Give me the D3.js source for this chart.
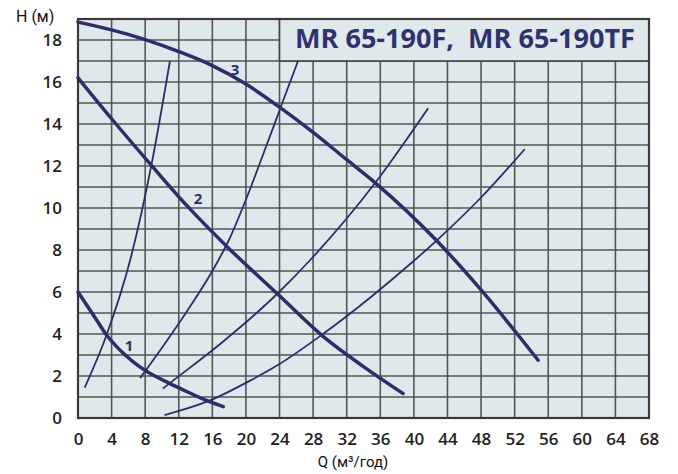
<!DOCTYPE html>
<html><head><meta charset="utf-8">
<script src="https://cdn.jsdelivr.net/npm/d3@7"></script>
<style>
html,body{margin:0;padding:0;background:#fff;}
svg{display:block;}
</style></head>
<body>
<svg id="c" width="678" height="474"></svg>
<script>
// ---- data ----
const xTicks = [0,4,8,12,16,20,24,28,32,36,40,44,48,52,56,60,64,68];
const yTicks = [0,2,4,6,8,10,12,14,16,18];
const titleText = "MR 65-190F,\u00A0 MR 65-190TF";
const xLabel = "Q (м³/год)";
const yLabel = "H (м)";
// pump curves [Q, H]
const pump1 = [[0,6.0],[2,4.8],[3.4,3.95],[4.6,3.4],[5.4,3.08],[6.5,2.7],[7.9,2.29],[10.9,1.65],[13,1.25],[15.5,0.8],[17.3,0.54]];
const pump2 = [[0,16.2],[4,14.25],[8.7,12.05],[13,10.1],[17.9,8.1],[23.65,5.95],[29,3.95],[34,2.45],[38.7,1.17]];
const pump3 = [[0,18.85],[4,18.48],[8,18.02],[12,17.45],[16,16.78],[20,15.9],[24,14.8],[28,13.6],[32,12.3],[35.4,11.2],[42.7,8.45],[48,6.1],[54.8,2.75]];
// system curves
const sysA = [[0.8,1.45],[3.4,3.95],[6.2,7.5],[8.77,12.1],[10.95,17.0]];
const sysB = [[7.4,1.9],[10,3.35],[13,5.1],[16,7.0],[18,8.5],[20.1,10.5],[22,12.5],[24.05,14.7],[26.2,17.0]];
const sysC = [[10.1,1.4],[10.9,1.65],[17,3.55],[23.8,5.94],[27.6,7.5],[35.4,11.2],[41.7,14.75]];
const sysE = [[10.3,0.14],[15.5,0.8],[20.5,1.78],[23.8,2.52],[29,3.95],[35,5.8],[39.9,7.45],[42.7,8.45],[48,10.5],[53.2,12.8]];
const curveLabels = [["1",6.07,3.48],["2",14.3,10.46],["3",18.7,16.62]];

const navy = "#2d2d6d";
const svg = d3.select("#c");
const x = d3.scaleLinear().domain([0,68]).range([78,649]);
const y = d3.scaleLinear().domain([0,19]).range([418,19]);

// plot background
svg.append("rect").attr("x",x(0)).attr("y",y(19)).attr("width",x(68)-x(0)).attr("height",y(0)-y(19)).attr("fill","#dfe9ec");

// grid
const g = svg.append("g").attr("stroke","#555").attr("stroke-width",1.6);
d3.range(0,69,4).forEach(v=>{
  g.append("line").attr("x1",x(v)).attr("x2",x(v)).attr("y1",y(0)).attr("y2",y(19));
});
d3.range(0,20,1).forEach(v=>{
  g.append("line").attr("x1",x(0)).attr("x2",x(68)).attr("y1",y(v)).attr("y2",y(v));
});

// title box
svg.append("rect").attr("x",x(24)).attr("y",y(19)).attr("width",x(68)-x(24)).attr("height",y(17)-y(19))
  .attr("fill","#dfe9ec").attr("stroke","#444").attr("stroke-width",1.6);
const tt = svg.append("text").attr("x",465).attr("y",48).attr("text-anchor","middle")
  .attr("font-family","'Open Sans', Roboto, sans-serif").attr("font-weight","bold").attr("font-size",23)
  .attr("fill","#2f3171").text(titleText);
const w = tt.node().getComputedTextLength();
if (w > 0) tt.attr("font-size", 23 * 340 / w);

// border
svg.append("rect").attr("x",x(0)).attr("y",y(19)).attr("width",x(68)-x(0)).attr("height",y(0)-y(19))
  .attr("fill","none").attr("stroke","#3a3a3a").attr("stroke-width",2.2);

// curves
const line = d3.line().x(d=>x(d[0])).y(d=>y(d[1])).curve(d3.curveMonotoneX);
[sysA,sysB,sysC,sysE].forEach(s=>{
  svg.append("path").attr("d",line(s)).attr("fill","none").attr("stroke",navy).attr("stroke-width",1.8);
});
[pump1,pump2,pump3].forEach(s=>{
  svg.append("path").attr("d",line(s)).attr("fill","none").attr("stroke",navy).attr("stroke-width",3.5).attr("stroke-linecap","round");
});
curveLabels.forEach(l=>{
  svg.append("text").attr("x",x(l[1])).attr("y",y(l[2])).attr("text-anchor","middle").attr("dominant-baseline","central")
    .attr("font-family","'Open Sans', sans-serif").attr("font-weight","bold").attr("font-size",15).attr("fill",navy).text(l[0]);
});

// axes
const xa = svg.append("g").attr("transform",`translate(0,${y(0)+22})`)
  .call(d3.axisBottom(x).tickValues(xTicks).tickSize(0).tickPadding(0).tickFormat(d3.format("d")));
xa.select(".domain").remove();
xa.selectAll("text").attr("font-family","'Open Sans', Roboto, sans-serif").attr("font-size",17).attr("font-weight",600).attr("fill","#222").attr("dy","0.32em").attr("y",0);
const ya = svg.append("g").attr("transform",`translate(62,0)`)
  .call(d3.axisLeft(y).tickValues(yTicks).tickSize(0).tickPadding(0).tickFormat(d3.format("d")));
ya.select(".domain").remove();
ya.selectAll("text").attr("font-family","'Open Sans', Roboto, sans-serif").attr("font-size",17).attr("font-weight",600).attr("fill","#222").attr("x",0);

svg.append("text").attr("x",16).attr("y",22).attr("font-family","Roboto, sans-serif").attr("font-size",16).attr("fill","#111").text(yLabel);
svg.append("text").attr("x",353).attr("y",467).attr("text-anchor","middle").attr("font-family","Roboto, sans-serif").attr("font-size",15).attr("fill","#111").text(xLabel);
</script>
</body></html>
